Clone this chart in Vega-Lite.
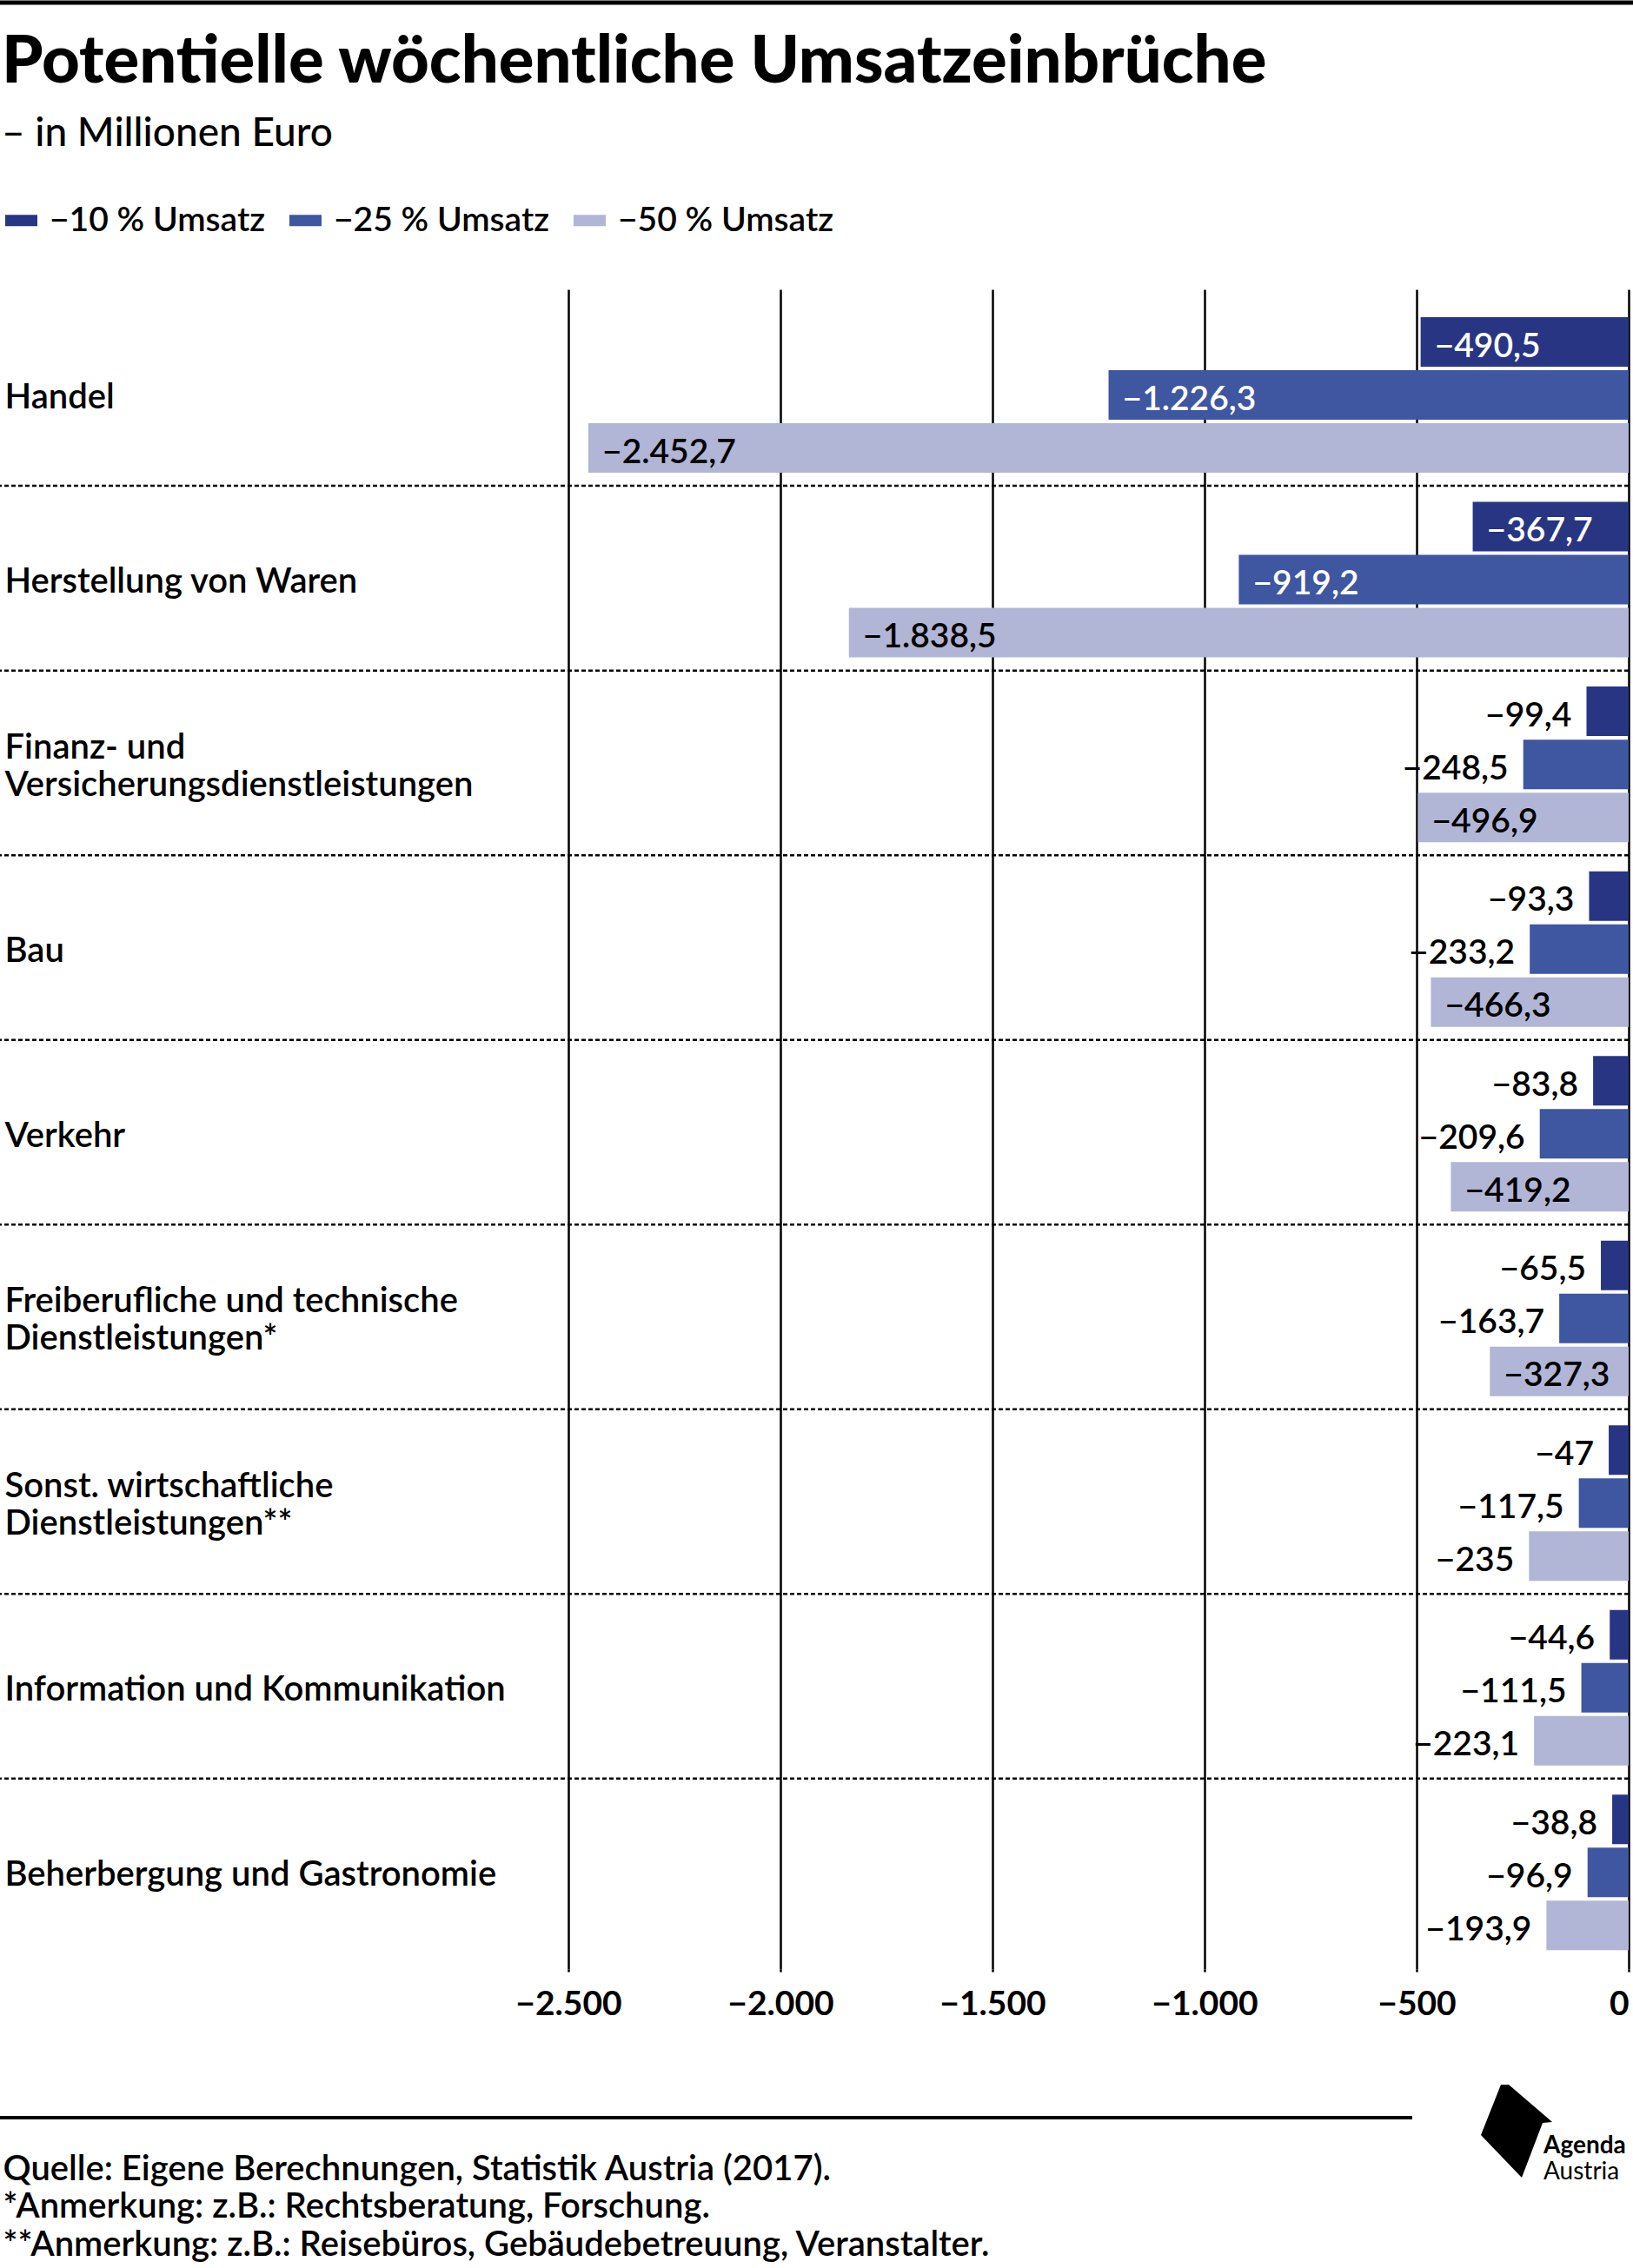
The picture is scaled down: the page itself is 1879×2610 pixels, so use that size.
{
  "$schema": "https://vega.github.io/schema/vega-lite/v6.json",
  "width": 1874,
  "height": 1933,
  "autosize": {"type": "none"},
  "padding": {"left": 0, "top": 333, "right": 5, "bottom": 344},
  "background": "white",
  "title": {
    "text": "Potentielle wöchentliche Umsatzeinbrüche",
    "subtitle": "– in Millionen Euro",
    "anchor": "start",
    "frame": "group",
    "orient": "top",
    "offset": -177,
    "dx": 2,
    "font": "Lato",
    "fontSize": 76,
    "fontWeight": 900,
    "color": "#000",
    "subtitleFont": "Lato",
    "subtitleFontSize": 46,
    "subtitleFontWeight": 500,
    "subtitleColor": "#000",
    "subtitlePadding": 21
  },
  "data": {
    "values": [
      {"category": "Handel", "series": "−10 % Umsatz", "value": -490.5},
      {"category": "Handel", "series": "−25 % Umsatz", "value": -1226.3},
      {"category": "Handel", "series": "−50 % Umsatz", "value": -2452.7},
      {"category": "Herstellung von Waren", "series": "−10 % Umsatz", "value": -367.7},
      {"category": "Herstellung von Waren", "series": "−25 % Umsatz", "value": -919.2},
      {"category": "Herstellung von Waren", "series": "−50 % Umsatz", "value": -1838.5},
      {"category": "Finanz- und|Versicherungsdienstleistungen", "series": "−10 % Umsatz", "value": -99.4},
      {"category": "Finanz- und|Versicherungsdienstleistungen", "series": "−25 % Umsatz", "value": -248.5},
      {"category": "Finanz- und|Versicherungsdienstleistungen", "series": "−50 % Umsatz", "value": -496.9},
      {"category": "Bau", "series": "−10 % Umsatz", "value": -93.3},
      {"category": "Bau", "series": "−25 % Umsatz", "value": -233.2},
      {"category": "Bau", "series": "−50 % Umsatz", "value": -466.3},
      {"category": "Verkehr", "series": "−10 % Umsatz", "value": -83.8},
      {"category": "Verkehr", "series": "−25 % Umsatz", "value": -209.6},
      {"category": "Verkehr", "series": "−50 % Umsatz", "value": -419.2},
      {"category": "Freiberufliche und technische|Dienstleistungen*", "series": "−10 % Umsatz", "value": -65.5},
      {"category": "Freiberufliche und technische|Dienstleistungen*", "series": "−25 % Umsatz", "value": -163.7},
      {"category": "Freiberufliche und technische|Dienstleistungen*", "series": "−50 % Umsatz", "value": -327.3},
      {"category": "Sonst. wirtschaftliche|Dienstleistungen**", "series": "−10 % Umsatz", "value": -47},
      {"category": "Sonst. wirtschaftliche|Dienstleistungen**", "series": "−25 % Umsatz", "value": -117.5},
      {"category": "Sonst. wirtschaftliche|Dienstleistungen**", "series": "−50 % Umsatz", "value": -235},
      {"category": "Information und Kommunikation", "series": "−10 % Umsatz", "value": -44.6},
      {"category": "Information und Kommunikation", "series": "−25 % Umsatz", "value": -111.5},
      {"category": "Information und Kommunikation", "series": "−50 % Umsatz", "value": -223.1},
      {"category": "Beherbergung und Gastronomie", "series": "−10 % Umsatz", "value": -38.8},
      {"category": "Beherbergung und Gastronomie", "series": "−25 % Umsatz", "value": -96.9},
      {"category": "Beherbergung und Gastronomie", "series": "−50 % Umsatz", "value": -193.9}
    ]
  },
  "layer": [
    {
      "mark": {"type": "bar", "stroke": null},
      "encoding": {
        "x": {
          "field": "value",
          "type": "quantitative",
          "scale": {"domain": [-3840, 0], "nice": false},
          "axis": {
            "values": [-2500, -2000, -1500, -1000, -500, 0],
            "format": ",d",
            "grid": true,
            "gridColor": "#000",
            "gridWidth": 2.5,
            "gridOpacity": 1,
            "domain": false,
            "ticks": true,
            "tickColor": "#000",
            "tickWidth": 2.5,
            "tickSize": 3,
            "labelPadding": 18,
            "labelFont": "Lato",
            "labelFontSize": 39,
            "labelFontWeight": 700,
            "labelColor": "#000",
            "labelFlush": true,
            "labelOverlap": false,
            "title": [
              "Quelle: Eigene Berechnungen, Statistik Austria (2017).",
              "*Anmerkung: z.B.: Rechtsberatung, Forschung.",
              "**Anmerkung: z.B.: Reisebüros, Gebäudebetreuung, Veranstalter."
            ],
            "titleAnchor": "start",
            "titleAlign": "left",
            "titleBaseline": "top",
            "titleX": 3,
            "titleY": 210,
            "titleFont": "Lato",
            "titleFontSize": 40,
            "titleFontWeight": 600,
            "titleLineHeight": 43.5,
            "titleColor": "#000"
          }
        },
        "y": {
          "field": "category",
          "type": "nominal",
          "sort": null,
          "scale": {"paddingInner": 0, "paddingOuter": 0.048, "align": 0.667},
          "axis": {
            "title": null,
            "domain": false,
            "ticks": false,
            "tickSize": 0,
            "grid": false,
            "labelAlign": "left",
            "labelBaseline": "middle",
            "labelPadding": -5,
            "labelOffset": {"condition": {"test": "indexof(datum.value, '|') >= 0", "value": -17}, "value": 5},
            "labelFont": "Lato",
            "labelFontSize": 40,
            "labelFontWeight": 600,
            "labelColor": "#000",
            "labelLineHeight": 43,
            "labelLimit": 0,
            "labelExpr": "split(datum.label, '|')"
          }
        },
        "yOffset": {
          "field": "series",
          "type": "nominal",
          "sort": null,
          "scale": {"paddingInner": 0.0656, "paddingOuter": 0.2746, "align": 0.552}
        },
        "color": {
          "field": "series",
          "type": "nominal",
          "sort": null,
          "scale": {
            "domain": ["−10 % Umsatz", "−25 % Umsatz", "−50 % Umsatz"],
            "range": ["#283583", "#3f56a0", "#b1b6d6"]
          },
          "legend": {
            "orient": "none",
            "legendX": 5,
            "legendY": -99,
            "direction": "horizontal",
            "title": null,
            "labelFont": "Lato",
            "labelFontSize": 39,
            "labelFontWeight": 600,
            "labelColor": "#000",
            "labelLimit": 0,
            "symbolType": "M-1,-0.35H1V0.35H-1Z",
            "symbolSize": 1369,
            "symbolStrokeWidth": 0,
            "labelOffset": 13,
            "columnPadding": 27,
            "padding": 0
          }
        }
      }
    },
    {
      "transform": [
        {"filter": "datum.series === '−10 % Umsatz' && datum.category !== 'Beherbergung und Gastronomie'"}
      ],
      "mark": {"type": "rule", "color": "#000", "strokeWidth": 2.5, "strokeDash": [5, 3]},
      "encoding": {
        "y": {"field": "category", "type": "nominal", "sort": null, "bandPosition": 1}
      }
    },
    {
      "transform": [{"filter": "datum.value < -300"}],
      "mark": {"type": "text", "align": "left", "baseline": "middle", "dx": 16, "dy": 5, "font": "Lato", "fontSize": 39, "fontWeight": 600},
      "encoding": {
        "x": {"field": "value", "type": "quantitative"},
        "y": {"field": "category", "type": "nominal", "sort": null},
        "yOffset": {"field": "series", "type": "nominal", "sort": null},
        "text": {"field": "value", "type": "quantitative", "format": ",.1~f"},
        "color": {"condition": {"test": "datum.series === '−50 % Umsatz'", "value": "#000"}, "value": "#fff"}
      }
    },
    {
      "transform": [{"filter": "datum.value >= -300"}],
      "mark": {"type": "text", "align": "right", "baseline": "middle", "dx": -17, "dy": 5, "font": "Lato", "fontSize": 39, "fontWeight": 600, "color": "#000"},
      "encoding": {
        "x": {"field": "value", "type": "quantitative"},
        "y": {"field": "category", "type": "nominal", "sort": null},
        "yOffset": {"field": "series", "type": "nominal", "sort": null},
        "text": {"field": "value", "type": "quantitative", "format": ",.1~f"}
      }
    },
    {
      "data": {"values": [{"element": "rahmen"}]},
      "layer": [
        {
          "mark": {"type": "rule", "color": "#000", "strokeWidth": 5},
          "encoding": {"x": {"value": 0}, "x2": {"value": 1879}, "y": {"value": -330}}
        },
        {
          "mark": {"type": "rule", "color": "#000", "strokeWidth": 4},
          "encoding": {"x": {"value": 0}, "x2": {"value": 1625}, "y": {"value": 2104}}
        },
        {
          "mark": {"type": "point", "shape": "M-0.36,-1.06L-0.18,-1.06L0.82,-0.2L0.6,-0.18L0.12,1.08L-0.82,0.1Z", "size": 10000, "filled": true, "color": "#000", "opacity": 1, "strokeWidth": 0},
          "encoding": {"x": {"value": 1745}, "y": {"value": 2119}}
        },
        {
          "mark": {"type": "text", "text": "Agenda", "align": "left", "baseline": "alphabetic", "font": "Lato", "fontSize": 28, "fontWeight": 700, "color": "#000"},
          "encoding": {"x": {"value": 1776}, "y": {"value": 2145}}
        },
        {
          "mark": {"type": "text", "text": "Austria", "align": "left", "baseline": "alphabetic", "font": "Lato", "fontSize": 28, "fontWeight": 400, "color": "#000"},
          "encoding": {"x": {"value": 1776}, "y": {"value": 2175}}
        }
      ]
    }
  ],
  "config": {
    "font": "Lato",
    "view": {"stroke": null},
    "locale": {
      "number": {"decimal": ",", "thousands": ".", "grouping": [3], "currency": ["", " €"], "minus": "−"}
    }
  }
}
